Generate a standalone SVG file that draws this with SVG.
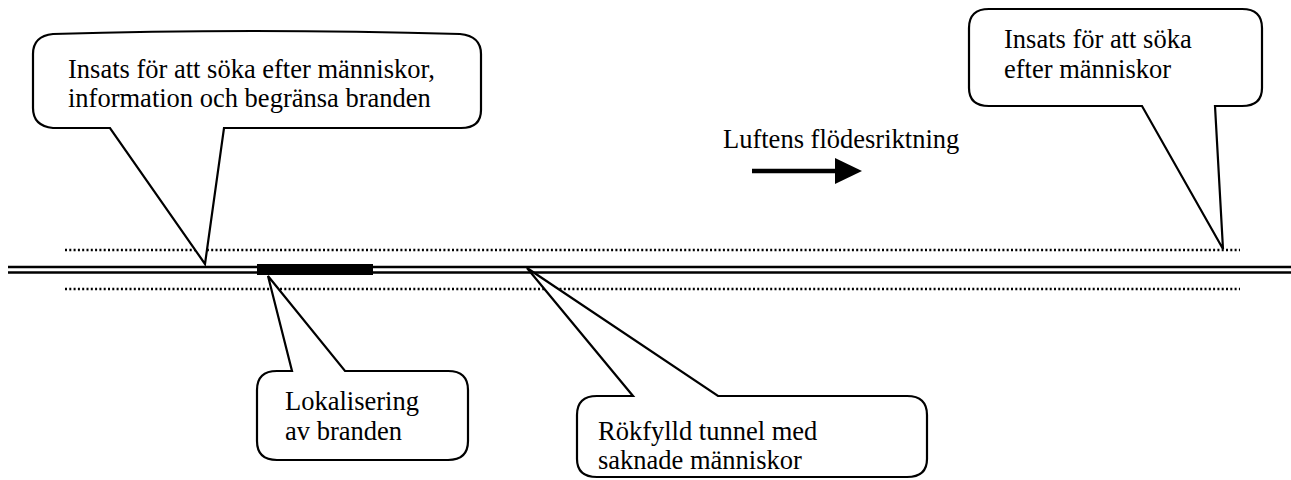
<svg xmlns="http://www.w3.org/2000/svg" width="1291" height="480" viewBox="0 0 1291 480">
<style>
.bub{fill:#fff;stroke:#000;stroke-width:2.2;stroke-linejoin:miter}
.t{font-family:"Liberation Serif","Times New Roman",serif;font-size:26.5px;fill:#000}
.dot{stroke:#000;stroke-width:2.4;stroke-dasharray:2 2.3}
.rail{stroke:#000;stroke-width:2.4}
</style>
<rect width="1291" height="480" fill="#fff"/>
<g id="tunnel">
<line class="dot" x1="65" y1="250" x2="1240" y2="250"/>
<line class="dot" x1="65" y1="289" x2="1240" y2="289"/>
<line class="rail" x1="8" y1="267" x2="1291" y2="267"/>
<line class="rail" x1="8" y1="272.5" x2="1291" y2="272.5"/>
<rect id="fire" x="257" y="264" width="116" height="11" fill="#000"/>
</g>
<g id="connectors">
<g id="airflow">
<line x1="752" y1="171" x2="838" y2="171" stroke="#000" stroke-width="4.5"/>
<polygon points="835,158 862,171 835,184" fill="#000"/>
</g>
</g>
<g id="n1">
<path class="bub" d="M53,34 Q250,28 460,34 Q481,36 481,54 L481,110 Q481,128 461,128 L224,128 L205,264 L110,128 L53,128 Q33,126 33,108 L33,54 Q33,36 53,34 Z"/>
<text class="t" x="68" y="78">Insats för att söka efter människor,</text>
<text class="t" x="68" y="107">information och begränsa branden</text>
</g>
<g id="n2">
<path class="bub" d="M989,9 L1242,9 Q1262,9 1262,28 L1262,88 Q1262,106 1242,106 L1215,106 L1223,249 L1142,106 L989,106 Q969,106 969,88 L969,28 Q969,9 989,9 Z"/>
<text class="t" x="1004" y="48">Insats för att söka</text>
<text class="t" x="1004" y="78">efter människor</text>
</g>
<g id="n3">
<path class="bub" d="M277,371 L292,371 L268,276 L345,371 L448,371 Q468,371 468,390 L468,441 Q468,460 448,460 L277,460 Q257,460 257,441 L257,390 Q257,371 277,371 Z"/>
<text class="t" x="285" y="410">Lokalisering</text>
<text class="t" x="285" y="440">av branden</text>
</g>
<g id="n4">
<path class="bub" d="M597,396 L633,396 L527,268 L718,396 L907,396 Q927,396 927,415 L927,459 Q927,477 907,477 L597,477 Q577,477 577,459 L577,415 Q577,396 597,396 Z"/>
<text class="t" x="598" y="440">Rökfylld tunnel med</text>
<text class="t" x="598" y="469">saknade människor</text>
</g>
<g id="n5">
<text class="t" x="723" y="148">Luftens flödesriktning</text>
</g>
</svg>
